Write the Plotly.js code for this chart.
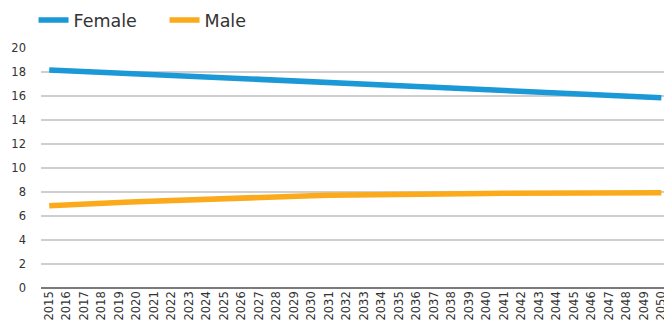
<!DOCTYPE html>
<html>
<head>
<meta charset="utf-8">
<script src="https://cdn.plot.ly/plotly-3.0.1.min.js"></script>
<style>html,body{margin:0;padding:0;overflow:hidden;background:#fff}</style>
</head>
<body>
<div id="chart" style="width:664px;height:331px"></div>
<script>
const years = ["2015","2016","2017","2018","2019","2020","2021","2022","2023","2024","2025","2026","2027","2028","2029","2030","2031","2032","2033","2034","2035","2036","2037","2038","2039","2040","2041","2042","2043","2044","2045","2046","2047","2048","2049","2050"];
const female = [18.17,18.11,18.05,17.99,17.93,17.87,17.79,17.73,17.67,17.6,17.53,17.47,17.4,17.33,17.24,17.18,17.12,17.06,16.98,16.92,16.86,16.8,16.72,16.66,16.6,16.54,16.45,16.39,16.33,16.27,16.18,16.12,16.06,16.0,15.93,15.86];
const male = [6.86,6.95,7.01,7.07,7.13,7.19,7.25,7.31,7.37,7.43,7.49,7.54,7.58,7.62,7.66,7.69,7.72,7.75,7.77,7.79,7.81,7.83,7.84,7.85,7.87,7.88,7.89,7.9,7.9,7.91,7.91,7.92,7.92,7.92,7.93,7.93];
const yTicks = [0,2,4,6,8,10,12,14,16,18,20];

const traces = [
  {x: years, y: female, name: "Female", type: "scatter", mode: "lines",
   line: {color: "#1b98d6", width: 5.5, shape: "linear"}},
  {x: years, y: male, name: "Male", type: "scatter", mode: "lines",
   line: {color: "#fbaa1c", width: 5.5, shape: "linear"}}
];

const layout = {
  width: 664, height: 331,
  margin: {l: 41, r: 0, t: 48, b: 43, pad: 0},
  paper_bgcolor: "#fff", plot_bgcolor: "#fff",
  font: {family: "'DejaVu Sans', sans-serif", color: "#333", size: 12},
  showlegend: true,
  legend: {orientation: "h", xref: "container", yref: "container",
           x: 0.0505, y: 1 - 20/331, xanchor: "left", yanchor: "middle",
           font: {size: 17.5, color: "#333"}, itemwidth: 30, tracegroupgap: 0,
           entrywidth: 86, entrywidthmode: "pixels"},
  xaxis: {type: "category", range: [-0.47, 35.15], tickangle: -90,
          showgrid: false, zeroline: false, showline: false, ticks: "",
          tickfont: {size: 11.5, color: "#333"}, automargin: false, fixedrange: true},
  yaxis: {range: [0, 20], tickvals: yTicks, ticktext: yTicks.map(String),
          showgrid: true, gridcolor: "#cfcfcf", gridwidth: 1.5,
          zeroline: true, zerolinecolor: "#7a7a7a", zerolinewidth: 1.5,
          showline: false, ticks: "", ticklabelstandoff: 14,
          tickfont: {size: 11.5, color: "#333"}, automargin: false, fixedrange: true}
};

Plotly.newPlot("chart", traces, layout, {displayModeBar: false, staticPlot: true});
</script>
</body>
</html>
